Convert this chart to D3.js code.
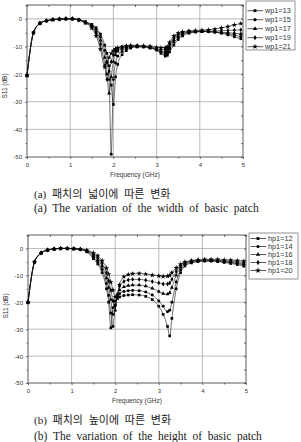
<!DOCTYPE html>
<html><head><meta charset="utf-8">
<script src="https://cdn.jsdelivr.net/npm/d3@7"></script>
<style>body{margin:0;background:#fff}</style></head>
<body>
<svg id="c" width="301" height="442"></svg>
<script>
// ---------- DATA ----------
const freq = [0,0.15,0.3,0.45,0.6,0.75,0.9,1.05,1.2,1.35,1.5,1.6,1.7,1.8,1.85,1.9,1.95,2.0,2.05,2.1,2.2,2.3,2.4,2.55,2.7,2.85,3.0,3.1,3.2,3.25,3.3,3.4,3.5,3.6,3.75,3.9,4.05,4.2,4.35,4.5,4.65,4.8,4.95];
const xTicks = [0,1,2,3,4,5];
const xMinor = [0.5,1.5,2.5,3.5,4.5];
const yTicks = [0,-10,-20,-30,-40,-50];
const yMinor = [5,-5,-15,-25,-35,-45];

const wpNames = ["wp1=13","wp1=15","wp1=17","wp1=19","wp1=21"];
const wp13 = [-20.5,-5,-1.6,-0.7,-0.3,-0.1,0,0,-0.3,-1.0,-2.0,-3.2,-5.5,-9.5,-12.5,-17,-24,-31,-21,-16.5,-13,-11.5,-10.6,-10.2,-10.2,-10.6,-11.3,-12.5,-13.5,-13.2,-12,-9.5,-7.5,-6.2,-5.2,-4.8,-4.6,-4.6,-4.8,-5.2,-5.8,-6.5,-7.2];
const wp15 = [-20.5,-5,-1.6,-0.7,-0.3,-0.1,0,0,-0.3,-1.1,-2.3,-3.8,-6.5,-11.5,-15.5,-22,-49,-22,-16,-13.5,-11.8,-10.8,-10.3,-10.0,-10.1,-10.5,-11.2,-12,-12.8,-12.5,-11,-8.5,-6.8,-5.7,-5.0,-4.7,-4.6,-4.7,-4.9,-5.1,-5.4,-5.9,-6.4];
const wp17 = [-20.5,-5,-1.6,-0.7,-0.3,-0.1,0,0,-0.4,-1.2,-2.6,-4.5,-7.8,-14,-20,-27,-21,-15.5,-13,-11.8,-10.8,-10.2,-10.0,-9.9,-10.0,-10.4,-11.0,-11.6,-12.0,-11.6,-10.2,-7.6,-6.2,-5.3,-4.8,-4.6,-4.5,-4.6,-4.7,-4.9,-5.0,-5.2,-5.4];
const wp19 = [-20.5,-5,-1.6,-0.7,-0.3,-0.1,0,0,-0.4,-1.3,-3.0,-5.3,-9.2,-17,-22,-19,-15.5,-13,-11.8,-11,-10.4,-10.0,-9.8,-9.8,-9.9,-10.2,-10.7,-11.1,-11.2,-10.8,-9.3,-6.8,-5.6,-5.0,-4.6,-4.5,-4.4,-4.4,-4.4,-4.3,-4.2,-4.1,-4.0];
const wp21 = [-20.5,-5,-1.6,-0.7,-0.3,-0.1,0,0,-0.5,-1.5,-3.4,-6.2,-11,-17.5,-16,-14,-12.5,-11.5,-10.9,-10.5,-10.1,-9.8,-9.7,-9.7,-9.8,-10.0,-10.3,-10.5,-10.5,-10.1,-8.5,-6.2,-5.2,-4.7,-4.4,-4.3,-4.2,-4.0,-3.7,-3.3,-2.8,-2.2,-1.7];

const hpNames = ["hp1=12","hp1=14","hp1=16","hp1=18","hp1=20"];
const hp12 = [-20,-5,-1.7,-0.6,-0.2,0,0,-0.1,-0.3,-1.3,-3.8,-5.8,-9,-15,-20,-29.5,-22,-19.5,-18.5,-18,-17.5,-17.3,-17.2,-17.3,-17.8,-19,-21.5,-24.5,-29,-32.5,-26,-15,-9,-6.5,-5.4,-4.9,-4.7,-4.7,-4.9,-5.2,-5.6,-6,-6.6];
const hp14 = [-20,-5,-1.7,-0.6,-0.2,0,0,-0.1,-0.3,-1.1,-3.2,-5,-7.8,-13,-17.5,-24,-29,-21,-18,-16.8,-16,-15.7,-15.6,-15.7,-16.2,-17.3,-19.5,-21.5,-23.5,-23,-20,-12.5,-8,-6,-5.2,-4.8,-4.6,-4.6,-4.8,-5,-5.3,-5.7,-6.1];
const hp16 = [-20,-5,-1.7,-0.6,-0.2,0,0,-0.1,-0.3,-0.9,-2.6,-4.2,-6.6,-11,-14.5,-19,-24.5,-23,-17.5,-15.5,-14.3,-13.8,-13.6,-13.6,-14,-14.8,-16,-16.8,-17,-16.5,-14.5,-10,-7,-5.6,-4.9,-4.6,-4.5,-4.5,-4.6,-4.8,-5,-5.3,-5.7];
const hp18 = [-20,-5,-1.7,-0.6,-0.2,0,0,-0.1,-0.3,-0.8,-2.1,-3.5,-5.6,-9,-12,-15.5,-19.5,-21.5,-17,-14,-12.3,-11.7,-11.5,-11.5,-11.8,-12.3,-12.8,-13.2,-13.2,-12.8,-11.5,-8.5,-6.3,-5.3,-4.7,-4.4,-4.3,-4.3,-4.4,-4.5,-4.7,-4.9,-5.2];
const hp20 = [-20,-5,-1.7,-0.6,-0.2,0,0,-0.1,-0.3,-0.7,-1.6,-2.7,-4.5,-7.3,-9.5,-12.5,-15.5,-18,-18.5,-13.5,-10.5,-9.7,-9.4,-9.3,-9.5,-9.9,-10.2,-10.4,-10.3,-10,-9,-7.2,-5.8,-5,-4.5,-4.2,-4.1,-4.1,-4.1,-4.2,-4.3,-4.5,-4.7];

const symbolTypes = [d3.symbolSquare, d3.symbolCircle, d3.symbolTriangle, d3.symbolDiamond, d3.symbolStar];

const captionsA = ["(a) 패치의 넓이에 따른 변화", "(a) The variation of the width of basic patch"];
const captionsB = ["(b) 패치의 높이에 따른 변화", "(b) The variation of the height of basic patch"];

// ---------- DRAW ----------
const svg = d3.select("#c");
const sans = "'Liberation Sans', Arial, sans-serif";
const serif = "'Liberation Serif', 'Times New Roman', 'Noto Sans CJK KR', serif";

function panel(p, names, series, captions) {
  const x = d3.scaleLinear().domain([0,5]).range([p.l, p.r]);
  const y = d3.scaleLinear().domain([-50,5]).range([p.b, p.t]);
  const g = svg.append("g");

  // grid
  g.selectAll(null).data(xTicks.slice(1,-1)).join("line")
    .attr("x1", d=>x(d)).attr("x2", d=>x(d)).attr("y1", p.t).attr("y2", p.b)
    .attr("stroke", "#aaa").attr("stroke-width", 0.8);
  g.selectAll(null).data(yTicks.slice(0,-1)).join("line")
    .attr("x1", p.l).attr("x2", p.r).attr("y1", d=>y(d)).attr("y2", d=>y(d))
    .attr("stroke", "#aaa").attr("stroke-width", 0.8);

  const style = sel => {
    sel.select(".domain").remove();
    sel.selectAll("line").attr("stroke", "#333").attr("stroke-width", 0.7);
    sel.selectAll("text").attr("font-family", sans).attr("font-size", 6).attr("fill", "#333");
  };
  const fmt = d => String(d);
  g.append("g").attr("transform", `translate(0,${p.b})`)
    .call(d3.axisBottom(x).tickValues(xTicks).tickFormat(fmt).tickSize(2).tickPadding(4)).call(style);
  g.append("g").attr("transform", `translate(0,${p.b})`)
    .call(d3.axisBottom(x).tickValues(xMinor).tickFormat("").tickSize(1.5)).call(style);
  g.append("g").attr("transform", `translate(0,${p.t})`)
    .call(d3.axisTop(x).tickValues(xTicks.concat(xMinor)).tickFormat("").tickSize(-2)).call(style);
  g.append("g").attr("transform", `translate(${p.l},0)`)
    .call(d3.axisLeft(y).tickValues(yTicks).tickFormat(fmt).tickSize(2).tickPadding(3)).call(style);
  g.append("g").attr("transform", `translate(${p.l},0)`)
    .call(d3.axisLeft(y).tickValues(yMinor).tickFormat("").tickSize(1.5)).call(style);
  g.append("g").attr("transform", `translate(${p.r},0)`)
    .call(d3.axisRight(y).tickValues(yTicks.concat(yMinor)).tickFormat("").tickSize(-2)).call(style);

  // frame
  g.append("rect").attr("x", p.l).attr("y", p.t).attr("width", p.r-p.l).attr("height", p.b-p.t)
    .attr("fill", "none").attr("stroke", "#333").attr("stroke-width", 0.8);

  // series
  const line = d3.line().x((d,i)=>x(freq[i])).y(d=>y(d)).curve(d3.curveMonotoneX);
  series.forEach((s, k) => {
    g.append("path").datum(s).attr("d", line).attr("fill", "none")
      .attr("stroke", "#111").attr("stroke-width", 0.6);
    g.selectAll(null).data(s).join("path")
      .attr("d", d3.symbol().type(symbolTypes[k]).size(k===4?9:7))
      .attr("transform", (d,i)=>`translate(${x(freq[i])},${y(d)})`)
      .attr("fill", "#000");
  });

  // axis titles
  g.append("text").attr("x", (p.l+p.r)/2).attr("y", p.b+20).attr("text-anchor", "middle")
    .attr("font-family", sans).attr("font-size", 6.5).attr("fill", "#333").text("Frequency (GHz)");
  g.append("text").attr("transform", `translate(${p.l-20},${p.ylab}) rotate(-90)`).attr("text-anchor", "middle")
    .attr("font-family", sans).attr("font-size", 6.5).attr("fill", "#333").text("S11 (dB)");

  // legend
  const L = p.leg;
  g.append("rect").attr("x", L.x0).attr("y", L.y0).attr("width", L.x1-L.x0).attr("height", L.y1-L.y0)
    .attr("fill", "#fff").attr("stroke", "#666").attr("stroke-width", 0.7);
  names.forEach((n, k) => {
    const yy = L.r0 + k*L.dy;
    g.append("line").attr("x1", L.x0+1.5).attr("x2", L.x0+17).attr("y1", yy).attr("y2", yy)
      .attr("stroke", "#111").attr("stroke-width", 0.7);
    g.append("path").attr("d", d3.symbol().type(symbolTypes[k]).size(k===4?10:8)())
      .attr("transform", `translate(${L.x0+9},${yy})`).attr("fill", "#000");
    g.append("text").attr("x", L.x0+19).attr("y", yy+2.6).attr("font-family", sans)
      .attr("font-size", 7.3).attr("fill", "#333").text(n);
  });

  // captions
  g.append("text").attr("x", 34).attr("y", p.c1).attr("font-family", serif).attr("font-size", 11)
    .attr("word-spacing", 3).attr("fill", "#222").text(captions[0]);
  g.append("text").attr("x", 34).attr("y", p.c2).attr("font-family", serif).attr("font-size", 11.5)
    .attr("word-spacing", 2.8).attr("fill", "#222").text(captions[1]);
}

panel({l:27, r:243, t:5, b:157, ylab:86, c1:198, c2:212,
       leg:{x0:246, x1:295, y0:1, y1:50, r0:10.7, dy:9}},
      wpNames, [wp13, wp15, wp17, wp19, wp21], captionsA);
panel({l:28, r:246, t:235, b:383, ylab:306, c1:424, c2:440,
       leg:{x0:249, x1:298, y0:233, y1:279, r0:238.5, dy:8}},
      hpNames, [hp12, hp14, hp16, hp18, hp20], captionsB);
</script>
</body></html>
